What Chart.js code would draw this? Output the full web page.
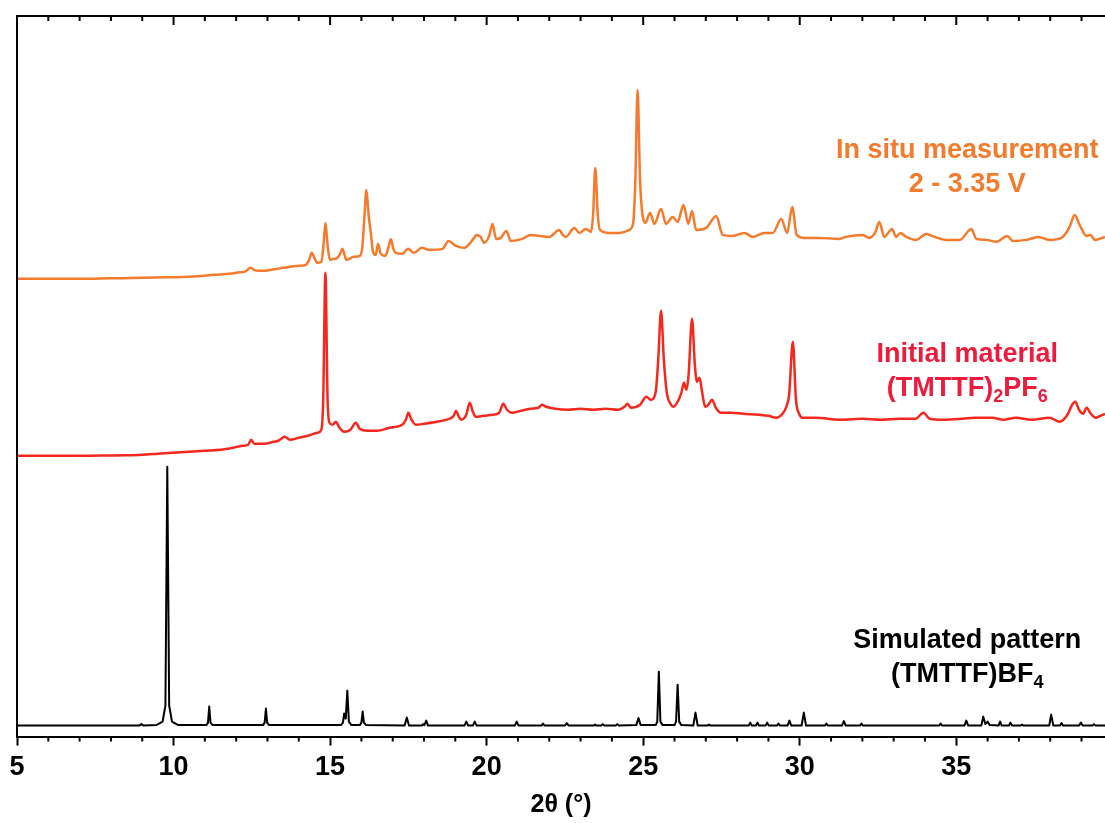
<!DOCTYPE html>
<html>
<head>
<meta charset="utf-8">
<title>XRD patterns</title>
<script src="https://cdn.jsdelivr.net/npm/chart.js@4.4.1/dist/chart.umd.min.js"></script>
<style>
  html, body { margin: 0; padding: 0; background: #fff; }
</style>
</head>
<body>
<canvas id="xrd" width="1105" height="823"></canvas>
<script>
// 2θ (deg) / intensity (a.u.) pairs, each pattern relative to its own baseline
const simPattern = [
  [5, 0], [8.9, 0], [8.97, 1.5], [9.04, 0],
  [9.45, 0.5], [9.65, 4], [9.74, 20], [9.8, 259], [9.86, 20], [9.95, 4], [10.15, 0.5],
  [11.05, 0.5], [11.1, 3], [11.14, 19], [11.18, 3], [11.25, 0.5],
  [12.86, 0.5], [12.91, 3], [12.95, 17], [12.99, 3], [13.05, 0.5],
  [15.35, 0.5], [15.41, 3], [15.45, 12], [15.5, 7], [15.55, 35], [15.6, 4], [15.68, 0.5],
  [15.95, 0.5], [16.0, 3], [16.04, 14], [16.08, 3], [16.15, 0.5],
  [17.38, 0], [17.45, 8], [17.52, 0],
  [17.93, 0], [17.97, 1.5], [18.01, 0.5], [18.07, 5], [18.13, 0],
  [19.29, 0], [19.35, 4], [19.41, 0], [19.56, 0], [19.62, 4], [19.68, 0],
  [20.9, 0], [20.96, 4], [21.02, 0],
  [21.75, 0], [21.8, 2], [21.85, 0],
  [22.5, 0], [22.56, 2.5], [22.62, 0],
  [23.42, 0], [23.46, 1], [23.5, 0], [23.66, 0], [23.71, 1.5], [23.76, 0],
  [24.12, 0], [24.17, 1.5], [24.22, 0],
  [24.78, 0.5], [24.85, 7.5], [24.92, 0.5],
  [25.4, 0.5], [25.45, 4], [25.5, 54], [25.55, 4], [25.62, 0.5],
  [26.0, 0.5], [26.05, 4], [26.1, 41], [26.15, 4], [26.22, 0.5],
  [26.6, 0], [26.67, 13], [26.74, 0],
  [27.05, 0], [27.1, 1], [27.15, 0],
  [28.37, 0], [28.42, 3], [28.47, 0], [28.6, 0], [28.65, 3], [28.7, 0],
  [28.91, 0], [28.96, 3], [29.01, 0], [29.27, 0], [29.32, 2], [29.37, 0],
  [29.61, 0], [29.67, 5], [29.73, 0],
  [30.06, 0], [30.13, 13], [30.2, 0],
  [30.8, 0], [30.85, 2], [30.9, 0],
  [31.35, 0], [31.41, 4.5], [31.47, 0],
  [31.92, 0], [31.97, 2], [32.02, 0],
  [34.45, 0], [34.5, 2], [34.55, 0],
  [35.26, 0], [35.32, 5], [35.38, 0],
  [35.8, 0], [35.86, 9], [35.93, 1.5], [36.0, 4], [36.07, 0.5],
  [36.35, 0], [36.4, 4], [36.45, 0], [36.68, 0], [36.73, 3], [36.78, 0],
  [37.05, 0], [37.1, 1], [37.15, 0],
  [37.97, 0], [38.03, 11], [38.1, 0],
  [38.31, 0], [38.36, 2.5], [38.41, 0],
  [38.92, 0], [38.98, 3], [39.04, 0],
  [39.35, 0], [39.4, 1.5], [39.45, 0], [39.75, 0]
];

const initialPattern = [
  [5, 0], [7, 0], [8, 0.3], [8.5, 0.5], [9, 1], [9.5, 2], [10, 3], [10.5, 4],
  [11, 5], [11.5, 6], [11.9, 8], [12.2, 10],
  [12.38, 11], [12.48, 16], [12.58, 12], [12.9, 12], [13.2, 14], [13.35, 15],
  [13.55, 19], [13.72, 16], [14.0, 18], [14.3, 20], [14.6, 23], [14.72, 26],
  [14.78, 56], [14.85, 183], [14.92, 56], [14.98, 33], [15.08, 31], [15.18, 34],
  [15.3, 28], [15.45, 24], [15.65, 26], [15.82, 33], [15.95, 27], [16.2, 25],
  [16.5, 25], [16.9, 28], [17.3, 31], [17.42, 36], [17.5, 43], [17.6, 36],
  [17.74, 31], [18.0, 32], [18.4, 34], [18.8, 37], [18.95, 40], [19.02, 45],
  [19.1, 40], [19.18, 36], [19.35, 41], [19.46, 53], [19.56, 44], [19.65, 39],
  [19.9, 40], [20.2, 41], [20.4, 43], [20.53, 52], [20.65, 46], [20.8, 43],
  [21.1, 45], [21.4, 47], [21.65, 48], [21.77, 51], [21.9, 49], [22.2, 47],
  [22.6, 46], [23.0, 47], [23.4, 46], [23.8, 47], [24.2, 46], [24.4, 49],
  [24.5, 52], [24.6, 48], [24.9, 51], [25.1, 59], [25.25, 56], [25.4, 64],
  [25.48, 96], [25.57, 145], [25.66, 96], [25.75, 64], [25.87, 52], [25.97, 49],
  [26.1, 54], [26.22, 63], [26.3, 73], [26.38, 66], [26.45, 81], [26.56, 137],
  [26.65, 91], [26.72, 74], [26.8, 78], [26.88, 64], [26.98, 49], [27.08, 51],
  [27.2, 56], [27.32, 48], [27.49, 43], [27.8, 43], [28.2, 42], [28.7, 41],
  [29.0, 40], [29.25, 38], [29.45, 42], [29.57, 49], [29.66, 61], [29.78, 114],
  [29.88, 56], [29.98, 42], [30.09, 38], [30.5, 38], [31.3, 36], [32.0, 37],
  [32.6, 36], [33.2, 37], [33.7, 37], [33.95, 43], [34.15, 37], [34.6, 36],
  [35.2, 37], [35.6, 38], [36.15, 38], [36.5, 36], [36.9, 38], [37.4, 36],
  [37.98, 38], [38.3, 34], [38.55, 41], [38.7, 51], [38.8, 54], [38.92, 46],
  [39.05, 42], [39.16, 48], [39.3, 42], [39.45, 38], [39.6, 40], [39.75, 42]
];

const inSituPattern = [
  [5, 0], [7, 0], [8, 0.5], [9, 1], [9.8, 1.5], [10.5, 2], [11, 3], [11.26, 4],
  [11.77, 5], [12.1, 6.5], [12.3, 7.5],
  [12.46, 11], [12.6, 8.5], [12.83, 8], [13.2, 9.5], [13.5, 11], [14.0, 13], [14.22, 14],
  [14.33, 19], [14.41, 26], [14.5, 21], [14.59, 16], [14.72, 17], [14.79, 34],
  [14.85, 56], [14.92, 34], [14.99, 19], [15.1, 20], [15.23, 21], [15.32, 25],
  [15.39, 30], [15.46, 24], [15.52, 19], [15.76, 22], [15.95, 23], [16.03, 32],
  [16.1, 64], [16.16, 89], [16.23, 64], [16.3, 46], [16.37, 27], [16.46, 24],
  [16.53, 35], [16.62, 25], [16.76, 23], [16.86, 31], [16.94, 40], [17.02, 30],
  [17.1, 26], [17.31, 25], [17.49, 30], [17.68, 26], [17.93, 31], [18.16, 29],
  [18.59, 30], [18.78, 38], [19.02, 33], [19.28, 31], [19.6, 41], [19.67, 44],
  [19.81, 42], [19.92, 36], [20.08, 43], [20.19, 55], [20.3, 40], [20.45, 41],
  [20.63, 48], [20.77, 38], [21.14, 40], [21.41, 44], [21.68, 43], [22.0, 42],
  [22.32, 49], [22.43, 44], [22.53, 42], [22.8, 51], [22.96, 46], [23.17, 50],
  [23.33, 47], [23.4, 64], [23.47, 111], [23.55, 64], [23.62, 49], [23.92, 46],
  [24.24, 46], [24.56, 49], [24.68, 56], [24.75, 99], [24.82, 189], [24.9, 99],
  [24.96, 69], [25.07, 56], [25.22, 66], [25.36, 55], [25.57, 70], [25.73, 55],
  [25.94, 62], [26.1, 57], [26.29, 74], [26.44, 55], [26.56, 68], [26.69, 49],
  [27.01, 51], [27.33, 63], [27.54, 44], [27.86, 43], [28.23, 46], [28.5, 42],
  [28.87, 46], [29.14, 46], [29.41, 60], [29.6, 46], [29.76, 72], [29.9, 44],
  [30.15, 41], [30.62, 41], [31.26, 40], [31.47, 42], [32.01, 44], [32.22, 41],
  [32.42, 47], [32.54, 57], [32.7, 42], [32.95, 50], [33.08, 42], [33.21, 46],
  [33.4, 42], [33.72, 39], [34.04, 45], [34.31, 42], [34.68, 39], [35.11, 39],
  [35.48, 50], [35.64, 40], [35.96, 39], [36.28, 37], [36.63, 43], [36.81, 38],
  [37.24, 39], [37.61, 42], [37.98, 39], [38.36, 41], [38.62, 52], [38.78, 64],
  [38.94, 54], [39.16, 43], [39.29, 44], [39.42, 39], [39.75, 42]
];

// vertical stacking of the three patterns
const offsets = { sim: 11, initial: 281, inSitu: 458 };
const xRange = [5, 39.75];
const xTickStep = 5;

// curve labels: "_" marks a subscript character
const inSituLabel = ["In situ measurement", "2 - 3.35 V"];
const initialLabel = ["Initial material", "(TMTTF)_2PF_6"];
const simLabel = ["Simulated pattern", "(TMTTF)BF_4"];

const FONT = "'Liberation Sans', Arial, Helvetica, sans-serif";
const ORANGE = "#F47A2C";
const RED = "#F5281E";
const RED_TEXT = "#EE1B3C";

function toPoints(pattern, offset) {
  return pattern.map(([x, y]) => ({ x, y: y + offset }));
}

// outer frame (left + top) and minor ticks on both horizontal edges
const framePlugin = {
  id: "frame",
  afterDatasetsDraw(chart) {
    const { ctx, chartArea: a } = chart;
    const x = chart.scales.x;
    ctx.save();
    ctx.strokeStyle = "#000";
    ctx.lineWidth = 2;
    ctx.beginPath();
    ctx.moveTo(a.left, a.bottom);
    ctx.lineTo(a.left, a.top);
    ctx.lineTo(a.right, a.top);
    ctx.stroke();
    for (let v = Math.ceil(x.min); v <= x.max; v++) {
      const px = x.getPixelForValue(v);
      const major = v % xTickStep === 0;
      ctx.beginPath();
      ctx.moveTo(px, a.top);
      ctx.lineTo(px, a.top + (major ? 9 : 5));
      if (!major) {
        ctx.moveTo(px, a.bottom);
        ctx.lineTo(px, a.bottom + 5);
      }
      ctx.stroke();
    }
    ctx.restore();
  }
};

function drawRich(ctx, text, cx, baseY, size) {
  const parts = [];
  for (let i = 0; i < text.length; i++) {
    if (text[i] === "_") { parts.push({ t: text[i + 1], sub: true }); i++; }
    else if (parts.length && !parts[parts.length - 1].sub) parts[parts.length - 1].t += text[i];
    else parts.push({ t: text[i], sub: false });
  }
  const subSize = Math.round(size * 0.66);
  let total = 0;
  parts.forEach(p => {
    ctx.font = `bold ${p.sub ? subSize : size}px ${FONT}`;
    p.w = ctx.measureText(p.t).width;
    total += p.w;
  });
  let xPos = cx - total / 2;
  ctx.textAlign = "left";
  ctx.textBaseline = "alphabetic";
  parts.forEach(p => {
    ctx.font = `bold ${p.sub ? subSize : size}px ${FONT}`;
    ctx.fillText(p.t, xPos, baseY + (p.sub ? size * 0.22 : 0));
    xPos += p.w;
  });
}

// text anchors in data units (2θ, stacked intensity of first baseline)
const curveLabels = [
  { lines: inSituLabel, color: ORANGE, x: 35.35, y: 579 },
  { lines: initialLabel, color: RED_TEXT, x: 35.35, y: 375 },
  { lines: simLabel, color: "#000", x: 35.35, y: 89 }
];

const labelPlugin = {
  id: "curveLabels",
  afterDraw(chart) {
    const { ctx } = chart;
    const { x, y } = chart.scales;
    ctx.save();
    curveLabels.forEach(l => {
      ctx.fillStyle = l.color;
      const cx = x.getPixelForValue(l.x);
      const by = y.getPixelForValue(l.y);
      l.lines.forEach((line, i) => drawRich(ctx, line, cx, by + i * 34, 27));
    });
    ctx.restore();
  }
};

const line = (data, color, width, smooth) => ({
  data,
  borderColor: color,
  borderWidth: width,
  pointRadius: 0,
  tension: 0,
  cubicInterpolationMode: smooth ? "monotone" : "default",
  borderJoinStyle: "round",
  fill: false
});

new Chart(document.getElementById("xrd"), {
  type: "line",
  data: {
    datasets: [
      line(toPoints(simPattern, offsets.sim), "#000", 2, false),
      line(toPoints(initialPattern, offsets.initial), RED, 2.5, true),
      line(toPoints(inSituPattern, offsets.inSitu), ORANGE, 2.5, true)
    ]
  },
  options: {
    responsive: false,
    animation: false,
    devicePixelRatio: 1,
    layout: { padding: { left: 17, top: 16, right: 0, bottom: 1 } },
    plugins: { legend: { display: false }, tooltip: { enabled: false } },
    scales: {
      x: {
        type: "linear",
        min: xRange[0],
        max: xRange[1],
        border: { display: true, color: "#000", width: 2 },
        grid: { drawOnChartArea: false, drawTicks: true, tickLength: 9, tickWidth: 2, tickColor: "#000" },
        ticks: {
          stepSize: xTickStep,
          includeBounds: false,
          autoSkip: false,
          maxRotation: 0,
          padding: 6,
          color: "#000",
          font: { family: FONT, size: 27, weight: "bold" }
        },
        title: {
          display: true,
          text: "2θ (°)",
          color: "#000",
          font: { family: FONT, size: 25, weight: "bold" },
          padding: { top: 0, bottom: 2 }
        }
      },
      y: { display: false, min: 0, max: 721 }
    }
  },
  plugins: [framePlugin, labelPlugin]
});
</script>
</body>
</html>
